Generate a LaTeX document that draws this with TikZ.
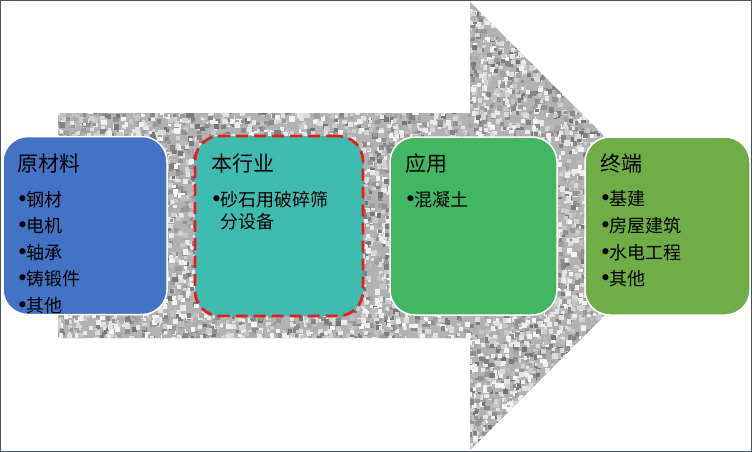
\documentclass[tikz,border=0pt]{standalone}
\usepackage{fontspec}
\setmainfont{Noto Sans CJK SC}
\newfontfamily\bulfont{DejaVu Sans}
\usepackage{tikz}
\definecolor{frame}{HTML}{44546A}
\definecolor{raw}{HTML}{4472C4}
\definecolor{ind}{HTML}{40BBB0}
\definecolor{app}{HTML}{42B662}
\definecolor{fin}{HTML}{70AD47}
\definecolor{dash}{HTML}{E0201E}
\newcommand\bul{\makebox[8.5pt][l]{\hspace{-1.8pt}\bulfont\fontsize{21}{21}\selectfont\raisebox{-0.3pt}{•}}}

\begin{document}
\begin{tikzpicture}[x=1pt,y=-1pt,
    box/.style={draw=white,line width=1.5pt,rounded corners=25pt,minimum height=178pt},
    head/.style={anchor=base west,inner sep=0pt,font=\fontsize{21}{21}\selectfont},
    item/.style={anchor=base west,inner sep=0pt,font=\fontsize{18}{18}\selectfont}]
        \useasboundingbox (0,0) rectangle (752,452);

        \begin{scope}
        \clip (58,113) -- (470,113) -- (470,2) -- (694,226)
        -- (470,450) -- (470,338) -- (58,338) -- cycle;
        \fill[black!30] (58,2) rectangle (694,450);
        \pgfmathsetseed{7}
        \foreach \i in {1,...,16000}{
          \pgfmathsetmacro\px{54+640*rnd}
          \pgfmathsetmacro\py{-2+452*rnd}
          \pgfmathtruncatemacro\keep{((\px<472)*(\py>109)*(\py<339)+(\px>=466)*(abs(\py-224)+\px<700))>0}
          \ifnum\keep>0
            \pgfmathsetmacro\g{int(4+52*rnd^1.4)}
            \pgfmathsetmacro\r{3+2.5*rnd}
            \fill[black!\g] (\px,\py) rectangle +(\r,\r);
          \fi
        }
        \end{scope}

        \node[box,fill=raw,minimum width=164pt] (Raw) at (85,225.5) {};
        \node[box,draw=dash,line width=2.8pt,dash pattern=on 12pt off 6pt,
          fill=ind,minimum width=168pt,minimum height=180pt] (Ind) at (279,226) {};
        \node[box,fill=app,minimum width=167pt] (App) at (473.5,226) {};
        \node[box,fill=fin,minimum width=165pt] (Fin) at (667.5,226) {};

        \path
        (17,171) node[head] (RawT) {原材料}
        (18,206) node[item] (R1) {\bul 钢材}
        (18,232.5) node[item] (R2) {\bul 电机}
        (18,259) node[item] (R3) {\bul 轴承}
        (18,285.5) node[item] (R4) {\bul 铸锻件}
        (18,312) node[item] (R5) {\bul 其他}
        ;

        \path
        (211,171) node[head] (IndT) {本行业}
        (212,206) node[item] (I1) {\bul 砂石用破碎筛}
        (212,228.5) node[item] (I2) {\hphantom{\bul}分设备}
        ;

        \path
        (405,171) node[head] (AppT) {应用}
        (406,206) node[item] (A1) {\bul 混凝土}
        ;

        \path
        (600,171) node[head] (FinT) {终端}
        (601,205.5) node[item] (F1) {\bul 基建}
        (601,232.5) node[item] (F2) {\bul 房屋建筑}
        (601,259) node[item] (F3) {\bul 水电工程}
        (601,285.5) node[item] (F4) {\bul 其他}
        ;

        \draw[frame,line width=2.5pt] (0,0) rectangle (752,452);
      \end{tikzpicture}
\end{document}
